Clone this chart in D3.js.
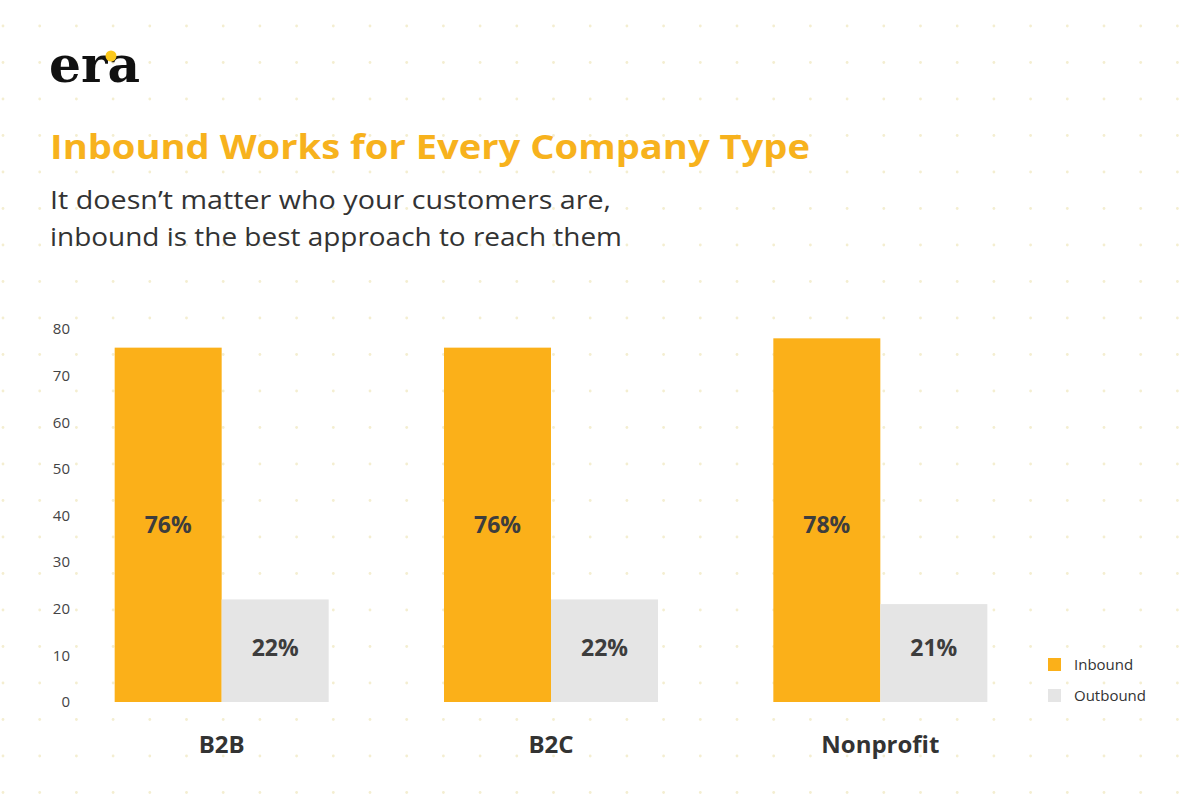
<!DOCTYPE html><html><head><meta charset="utf-8">
<script src="https://cdn.jsdelivr.net/npm/d3@7"></script>
<style>body{margin:0;background:#fff}</style></head><body>
<svg id="c" width="1200" height="800"></svg>
<script>
const categories=["B2B","B2C","Nonprofit"];
const inbound=[76,76,78];
const outbound=[22,22,21];
const series=["Inbound","Outbound"];
const ticks=[0,10,20,30,40,50,60,70,80];
const colors=["#fbb019","#e5e5e5"];
const svg=d3.select("#c");
const font="'Open Sans', Lato, sans-serif";
const dots=[];
for(let y=26;y<800;y+=36.5)for(let x=3;x<1200;x+=36.7)dots.push([x,y]);
svg.append("g").selectAll("circle").data(dots).join("circle")
 .attr("cx",d=>d[0]).attr("cy",d=>d[1]).attr("r",1.4).attr("fill","#f4eed0");
svg.append("text").attr("x",49).attr("y",82).attr("font-family","'DejaVu Serif',serif")
 .attr("font-weight","bold").attr("font-size",50).attr("fill","#111").attr("textLength",91).attr("lengthAdjust","spacingAndGlyphs").text("era");
svg.append("circle").attr("cx",111).attr("cy",56).attr("r",5.5).attr("fill","#fbc81b");
svg.append("text").attr("x",50).attr("y",159).attr("font-family",font).attr("font-weight","bold")
 .attr("font-size",34).attr("fill","#f7b21d").attr("textLength",760).attr("lengthAdjust","spacingAndGlyphs").text("Inbound Works for Every Company Type");
svg.append("text").attr("x",50).attr("y",209).attr("font-family",font).attr("font-size",25).attr("fill","#333")
 .attr("textLength",561).attr("lengthAdjust","spacingAndGlyphs").text("It doesn’t matter who your customers are,");
svg.append("text").attr("x",50).attr("y",246).attr("font-family",font).attr("font-size",25).attr("fill","#333")
 .attr("textLength",572).attr("lengthAdjust","spacingAndGlyphs").text("inbound is the best approach to reach them");
const y=d3.scaleLinear().domain([0,80]).range([702,329]);
const x=d3.scaleBand().domain(categories).range([57,1045]);
const inner=d3.scaleBand().domain(series).range([0,214]);
const ax=svg.append("g").attr("transform","translate(70,0)")
 .call(d3.axisLeft(y).tickValues(ticks).tickSize(0).tickPadding(0));
ax.select(".domain").remove();
ax.selectAll("text").attr("font-family",font).attr("font-size",15).attr("fill","#444");
const data=categories.map((c,i)=>({c,vals:[inbound[i],outbound[i]]}));
const g=svg.append("g").selectAll("g").data(data).join("g")
 .attr("transform",d=>`translate(${x(d.c)+x.bandwidth()/2-107},0)`);
g.selectAll("rect").data(d=>d.vals.map((v,j)=>({v,s:series[j],j}))).join("rect")
 .attr("x",d=>inner(d.s)).attr("width",inner.bandwidth()).attr("y",d=>y(d.v)).attr("height",d=>y(0)-y(d.v))
 .attr("fill",d=>colors[d.j]);
g.selectAll("text.v").data(d=>d.vals.map((v,j)=>({v,s:series[j],j}))).join("text").attr("class","v")
 .attr("x",d=>inner(d.s)+inner.bandwidth()/2).attr("y",d=>d.j==0?y(38)+8:y(0)-46)
 .attr("text-anchor","middle").attr("font-family",font).attr("font-weight","bold").attr("font-size",23)
 .attr("fill","#3d3d3d").text(d=>d.v+"%");
svg.append("g").selectAll("text").data(categories).join("text")
 .attr("x",d=>x(d)+x.bandwidth()/2).attr("y",753).attr("text-anchor","middle")
 .attr("font-family",font).attr("font-weight","bold").attr("font-size",24).attr("fill","#333").text(d=>d);
const lg=svg.append("g").selectAll("g").data(series).join("g").attr("transform",(d,i)=>`translate(1048,${658+i*31})`);
lg.append("rect").attr("width",13).attr("height",13).attr("fill",(d,i)=>colors[i]);
lg.append("text").attr("x",26).attr("y",12).attr("font-family",font).attr("font-size",15).attr("fill","#333").text(d=>d);
</script></body></html>
